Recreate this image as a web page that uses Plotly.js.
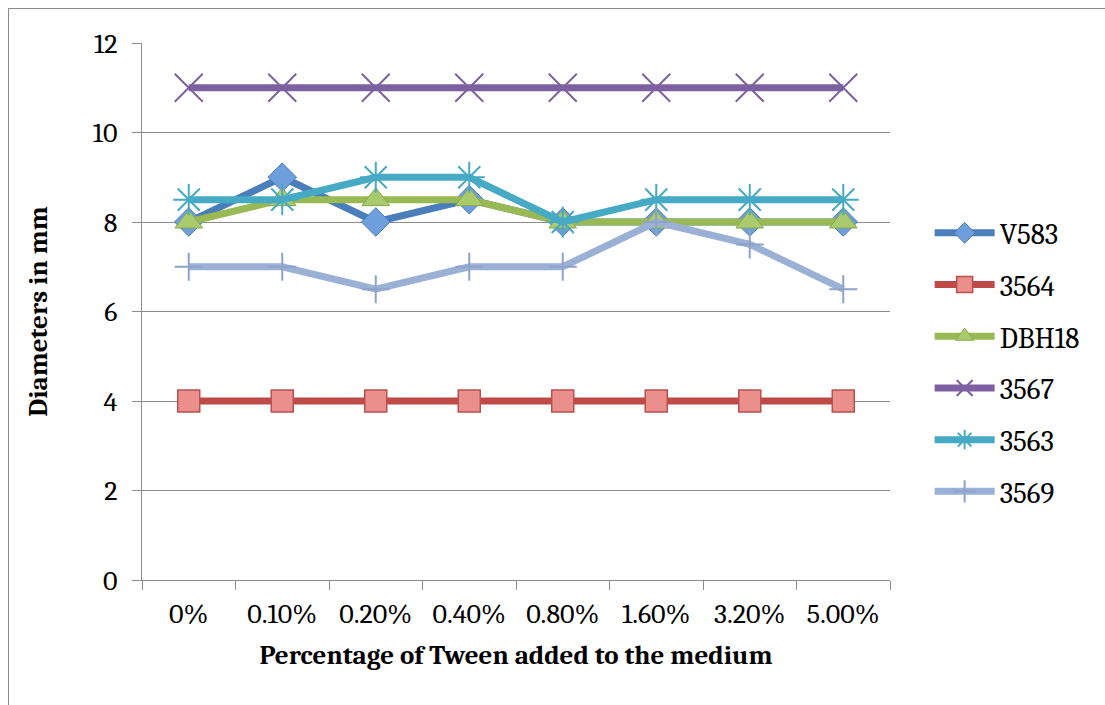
<!DOCTYPE html>
<html>
<head>
<meta charset="utf-8">
<script src="https://cdn.plot.ly/plotly-3.0.1.min.js"></script>
<style>
  html, body { margin: 0; padding: 0; background: #fff; }
  #frame { position: absolute; left: 8px; top: 8px; width: 1100px; height: 700px; border: 1px solid #8c8c8c; box-sizing: border-box; }
  #chart { position: absolute; left: 0; top: 0; width: 1105px; height: 705px; }
</style>
</head>
<body>
<div id="frame"></div>
<div id="chart"></div>
<script>
// Tween concentration categories
const categories = ['0%', '0.10%', '0.20%', '0.40%', '0.80%', '1.60%', '3.20%', '5.00%'];

// Zone diameters (mm) per strain
const v583  = [8, 9, 8, 8.5, 8, 8, 8, 8];
const s3564 = [4, 4, 4, 4, 4, 4, 4, 4];
const dbh18 = [8, 8.5, 8.5, 8.5, 8, 8, 8, 8];
const s3567 = [11, 11, 11, 11, 11, 11, 11, 11];
const s3563 = [8.5, 8.5, 9, 9, 8, 8.5, 8.5, 8.5];
const s3569 = [7, 7, 6.5, 7, 7, 8, 7.5, 6.5];

const yTicks = [0, 2, 4, 6, 8, 10, 12];

function series(name, y, lineColor, marker, group) {
  return {
    type: 'scatter', mode: 'lines+markers', name: name, x: categories, y: y,
    legendgroup: group,
    line: { color: lineColor, width: 7 },
    marker: marker
  };
}

const traces = [
  series('V583', v583, '#4a7ebb',
    { symbol: 'diamond', size: 22, color: '#6e9edb', line: { color: '#4a7ebb', width: 1 } }, 'g1'),
  series('3564', s3564, '#be4b48',
    { symbol: 'square', size: 22, color: '#eb8f8c', line: { color: '#b9504d', width: 1.5 } }, 'g2'),
  series('DBH18', dbh18, '#98b954',
    { symbol: 'triangle-up', size: 24, color: '#a9cb6d', line: { color: '#8aa84f', width: 1 } }, 'g3'),
  series('3567', s3567, '#7d60a0',
    { symbol: 'x-thin-open', size: 28, color: '#7d60a0', line: { color: '#7d60a0', width: 2 } }, 'g4'),
  series('3563', s3563, '#46aac5',
    { symbol: 'asterisk-open', size: 26, color: '#46aac5', line: { color: '#46aac5', width: 2 } }, 'g5'),
  series('3569', s3569, '#9bb0d5',
    { symbol: 'cross-thin-open', size: 20, color: '#8ea3c9', line: { color: '#8ea3c9', width: 2 } }, 'g6')
];

const serif = 'Cambria, "Liberation Serif", "DejaVu Serif", serif';

const layout = {
  width: 1105, height: 705,
  paper_bgcolor: 'rgba(0,0,0,0)', plot_bgcolor: 'rgba(0,0,0,0)',
  margin: { l: 142, r: 215, t: 43, b: 125 },
  font: { family: serif, size: 28, color: '#000' },
  showlegend: true,
  legend: {
    x: 1.053, xanchor: 'left', y: 0.405, yanchor: 'middle',
    traceorder: 'grouped', tracegroupgap: 11,
    font: { family: serif, size: 29, color: '#000' },
    itemwidth: 60
  },
  xaxis: {
    type: 'category', range: [-0.5, 7.5],
    tickson: 'boundaries', ticks: 'outside', ticklen: 9, tickcolor: '#8c8c8c',
    showline: true, linecolor: '#8c8c8c', linewidth: 1,
    showgrid: false, zeroline: false,
    ticklabelstandoff: 8,
    tickfont: { family: serif, size: 28 },
    title: { text: '<b>Percentage of Tween added to the medium</b>', font: { family: serif, size: 27 }, standoff: 16 }
  },
  yaxis: {
    range: [0, 12], tickvals: yTicks, ticktext: yTicks.map(String),
    ticks: 'outside', ticklen: 9, tickcolor: '#8c8c8c',
    showline: true, linecolor: '#8c8c8c', linewidth: 1,
    showgrid: true, gridcolor: '#8c8c8c', gridwidth: 1, zeroline: false,
    ticklabelstandoff: 9,
    tickfont: { family: serif, size: 28 },
    title: { text: '<b>Diameters in mm</b>', font: { family: serif, size: 27 }, standoff: 37 }
  }
};

Plotly.newPlot('chart', traces, layout, { displayModeBar: false, staticPlot: true });
</script>
</body>
</html>
